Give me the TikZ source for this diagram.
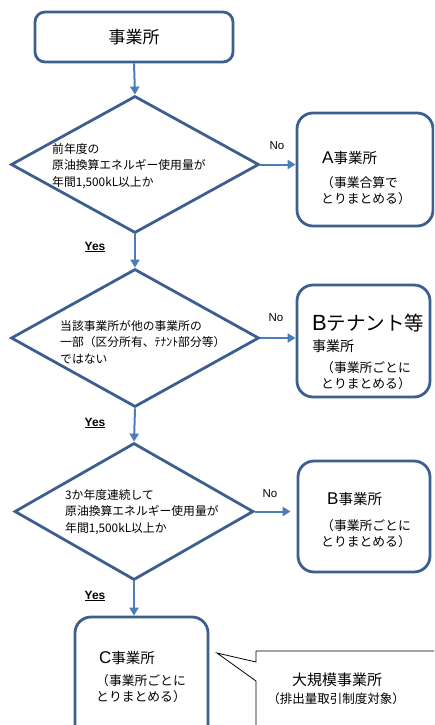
\documentclass[tikz,border=0pt]{standalone}
\usepackage{fontspec}
\setmainfont{Noto Sans CJK JP}
\newfontfamily\lat{Liberation Sans}
\usetikzlibrary{shapes.geometric,arrows.meta}
\definecolor{boxblue}{HTML}{3C5F8F}
\definecolor{arrblue}{HTML}{4A7EBB}
\tikzset{
  rbox/.style={draw=boxblue, line width=2.8pt, rounded corners=16pt, minimum width=#1, inner sep=0pt},
  dia/.style={draw=boxblue, line width=2.8pt, diamond, inner sep=0pt},
  arr/.style={draw=arrblue, line width=2pt, -{Triangle[length=8pt,width=9pt]}},
  txt/.style={inner sep=0pt, anchor=base west},
  mtxt/.style={inner sep=0pt, anchor=west, align=left},
  lbl/.style={inner sep=0pt, font=\lat\fontsize{11.5}{13}\selectfont},
  yes/.style={inner sep=0pt, font=\lat\bfseries\fontsize{12}{13}\selectfont}
}
\begin{document}
\begin{tikzpicture}[x=1pt,y=-1pt]
\useasboundingbox (0,0) rectangle (434,725);
\clip (0,0) rectangle (434,725);
% top box
\node[rbox=198pt, minimum height=50pt, rounded corners=10pt] (top) at (134,37) {};
\node[inner sep=0pt, font=\fontsize{17}{20}\selectfont] (toptxt) at (top) {事業所};
% diamonds
\node[dia, minimum width=248pt, minimum height=137pt] (d1) at (135,164.5) {};
\node[dia, minimum width=248pt, minimum height=138pt] (d2) at (135,338) {};
\node[dia, minimum width=239pt, minimum height=137pt] (d3) at (134,511.5) {};
\node[mtxt, font=\fontsize{11.8}{16.2}\selectfont] (t1) at (52,166) {前年度の\\原油換算エネルギー使用量が\\年間1,500kL以上か};
\node[mtxt, font=\fontsize{11.8}{16.5}\selectfont] (t2) at (60,342) {当該事業所が他の事業所の\\一部（区分所有、ﾃﾅﾝﾄ部分等）\\ではない};
\node[mtxt, font=\fontsize{11.8}{16.2}\selectfont] (t3) at (65,512) {3か年度連続して\\原油換算エネルギー使用量が\\年間1,500kL以上か};
% result boxes
\node[rbox=136pt, minimum height=113pt] (A) at (365,169.5) {};
\node[rbox=133pt, minimum height=112pt] (Bt) at (363.5,341) {};
\node[rbox=132pt, minimum height=111pt] (B) at (364,516.5) {};
\node[rbox=133pt, minimum height=124pt] (C) at (141.5,679) {};
% box A text
\node[txt] (Aa) at (322,163) {{\lat\fontsize{17}{20}\selectfont A}{\fontsize{14.5}{17}\selectfont 事業所}};
\node[mtxt, font=\fontsize{12.8}{16}\selectfont] (Ab) at (321,191) {（事業合算で\\とりまとめる）};
% box Bt text
\node[txt] (Bta) at (312,330) {{\lat\fontsize{22}{24}\selectfont B}{\fontsize{19.5}{22}\selectfont テナント等}};
\node[txt, font=\fontsize{14}{16}\selectfont] (Btb) at (312,351) {事業所};
\node[mtxt, font=\fontsize{12.8}{16}\selectfont] (Btc) at (321,376) {（事業所ごとに\\とりまとめる）};
% box B text
\node[txt] (Ba) at (327,504) {{\lat\fontsize{17}{20}\selectfont B}{\fontsize{14.5}{17}\selectfont 事業所}};
\node[mtxt, font=\fontsize{12.8}{16}\selectfont] (Bb) at (321,534) {（事業所ごとに\\とりまとめる）};
% box C text
\node[txt] (Ca) at (99,663) {{\lat\fontsize{17}{20}\selectfont C}{\fontsize{14.5}{17}\selectfont 事業所}};
\node[mtxt, font=\fontsize{12.8}{16}\selectfont] (Cb) at (96,689) {（事業所ごとに\\とりまとめる）};
% arrows
\draw[arr] (top.south) -- (d1.north);
\draw[arr] (d1.south) -- (d2.north);
\draw[arr] (d2.south) -- (d3.north);
\draw[arr] (d3.south) -- (d3.south |- C.north);
\draw[arr] (d1.east) -- (d1.east -| A.west);
\draw[arr] (d2.east) -- (d2.east -| Bt.west);
\draw[arr, shorten >=6pt] (d3.east) -- (d3.east -| B.west);
% labels
\node[lbl] (no1) at (277,146) {No};
\node[lbl] (no2) at (276,318) {No};
\node[lbl] (no3) at (270,494) {No};
\node[yes] (y1) at (95,247) {\underline{Yes}};
\node[yes] (y2) at (95,423) {\underline{Yes}};
\node[yes] (y3) at (95,596) {\underline{Yes}};
% callout
\coordinate (tip) at (217,653);
\draw[black, line width=0.8pt] (256,662) -- (tip) -- (256,681) -- (256,740) -- (445,740) -- (445,651) -- (256,651) -- cycle;
\node[inner sep=0pt, font=\fontsize{15}{18}\selectfont] (cl1) at (337,680) {大規模事業所};
\node[inner sep=0pt, font=\fontsize{12.5}{15}\selectfont] (cl2) at (336,699) {（排出量取引制度対象）};
\end{tikzpicture}
\end{document}
